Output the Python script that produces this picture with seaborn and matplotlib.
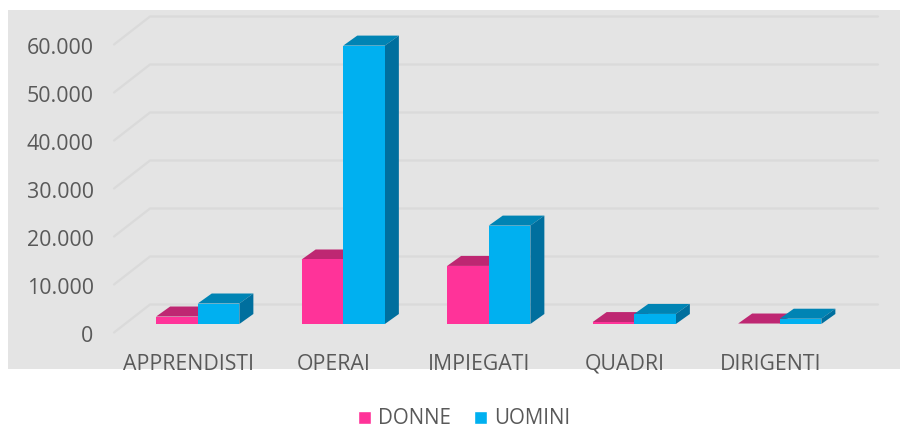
import matplotlib
matplotlib.use("Agg")
import matplotlib.pyplot as plt
from matplotlib.lines import Line2D
from matplotlib.patches import Polygon, Rectangle
from matplotlib.transforms import ScaledTranslation
from matplotlib.ticker import FuncFormatter
import pandas as pd
import seaborn as sns

categories = ["APPRENDISTI", "OPERAI", "IMPIEGATI", "QUADRI", "DIRIGENTI"]
donne = [1560, 13440, 12100, 400, 100]
uomini = [4270, 58000, 20500, 2100, 1100]
series_names = ["DONNE", "UOMINI"]
y_ticks = [0, 10000, 20000, 30000, 40000, 50000, 60000]

PINK, BLUE = "#FF3399", "#00B0F0"
TOPS = {"DONNE": "#BE2772", "UOMINI": "#0084B4"}
SIDES = {"DONNE": "#A8205F", "UOMINI": "#006F9E"}
PANEL, GRID, TEXT = "#E4E4E4", "#DADADA", "#595959"

sns.set_theme(style="white")
plt.rcParams["font.family"] = ["Open Sans", "DejaVu Sans"]

W, H = 900, 430
fig = plt.figure(figsize=(W / 100, H / 100), dpi=100, facecolor="white")
fig.add_artist(Rectangle((8 / W, 1 - 369 / H), 892 / W, 359 / H,
                         transform=fig.transFigure, fc=PANEL, ec="none", zorder=-5))

left, right, bottom, top = 125, 852.5, 324, 36
ax = fig.add_axes([left / W, 1 - bottom / H, (right - left) / W, (bottom - top) / H])
ax.patch.set_alpha(0)

df = pd.DataFrame({
    "categoria": categories * 2,
    "serie": [series_names[0]] * 5 + [series_names[1]] * 5,
    "valore": donne + uomini,
})
sns.barplot(data=df, x="categoria", y="valore", hue="serie", order=categories,
            hue_order=series_names, palette=[PINK, BLUE], width=0.572, gap=0,
            saturation=1, ax=ax, zorder=4, linewidth=0, legend=False)
ax.set_xlim(-0.5, 4.5)
ax.set_ylim(0, 60000)
ax.set_xlabel("")
ax.set_ylabel("")
sns.despine(ax=ax, left=True, bottom=True)
ax.tick_params(length=0)

# Depth of the pseudo-3D bars, expressed in data units of the axes
dx = 14 / ((right - left) / 5)
dy = 10 / ((bottom - top) / 60000)
for name, cont in zip(series_names, ax.containers):
    for bar in cont:
        x0, x1 = bar.get_x(), bar.get_x() + bar.get_width()
        h = bar.get_height()
        ax.add_patch(Polygon([(x0, h), (x1, h), (x1 + dx, h + dy), (x0 + dx, h + dy)],
                             fc=TOPS[name], ec="none", clip_on=False, zorder=3))
        ax.add_patch(Polygon([(x1, 0), (x1, h), (x1 + dx, h + dy), (x1 + dx, dy)],
                             fc=SIDES[name], ec="none", clip_on=False, zorder=3))

# Gridlines on the floor edge and back wall
front = ax.transData + ScaledTranslation(-11 / 100, -8.5 / 100, fig.dpi_scale_trans)
back_l = ax.transData + ScaledTranslation(25 / 100, 19.5 / 100, fig.dpi_scale_trans)
back_r = ax.transData + ScaledTranslation(25.5 / 100, 19.5 / 100, fig.dpi_scale_trans)
for v in y_ticks:
    p0 = front.transform((-0.5, v))
    p1 = back_l.transform((-0.5, v))
    p2 = back_r.transform((4.5, v))
    ax.add_line(Line2D([p0[0], p1[0], p2[0]], [p0[1], p1[1], p2[1]], transform=None,
                       color=GRID, lw=1.6, zorder=1, clip_on=False))

ax.set_yticks(y_ticks)
ax.yaxis.set_major_formatter(FuncFormatter(lambda v, _: f"{int(v):,}".replace(",", ".")))
ax.tick_params(axis="y", labelsize=15.4, labelcolor=TEXT, pad=22.6)
ax.tick_params(axis="x", labelsize=15.3, labelcolor=TEXT, pad=21.3)
for lab in ax.get_yticklabels():
    lab.set_transform(lab.get_transform() + ScaledTranslation(0, -10.5 / 100, fig.dpi_scale_trans))
for lab in ax.get_xticklabels():
    lab.set_transform(lab.get_transform() + ScaledTranslation(-9.5 / 100, 0, fig.dpi_scale_trans))

handles = [Rectangle((0, 0), 1, 1, fc=PINK), Rectangle((0, 0), 1, 1, fc=BLUE)]
fig.legend(handles, series_names, loc="center", bbox_to_anchor=(464 / W, 1 - 419 / H),
           ncol=2, frameon=False, fontsize=14.8, labelcolor=TEXT,
           handlelength=0.635, handleheight=0.635, handletextpad=0.34, columnspacing=1.1,
           borderpad=0)

fig.savefig("out.png", dpi=100)
